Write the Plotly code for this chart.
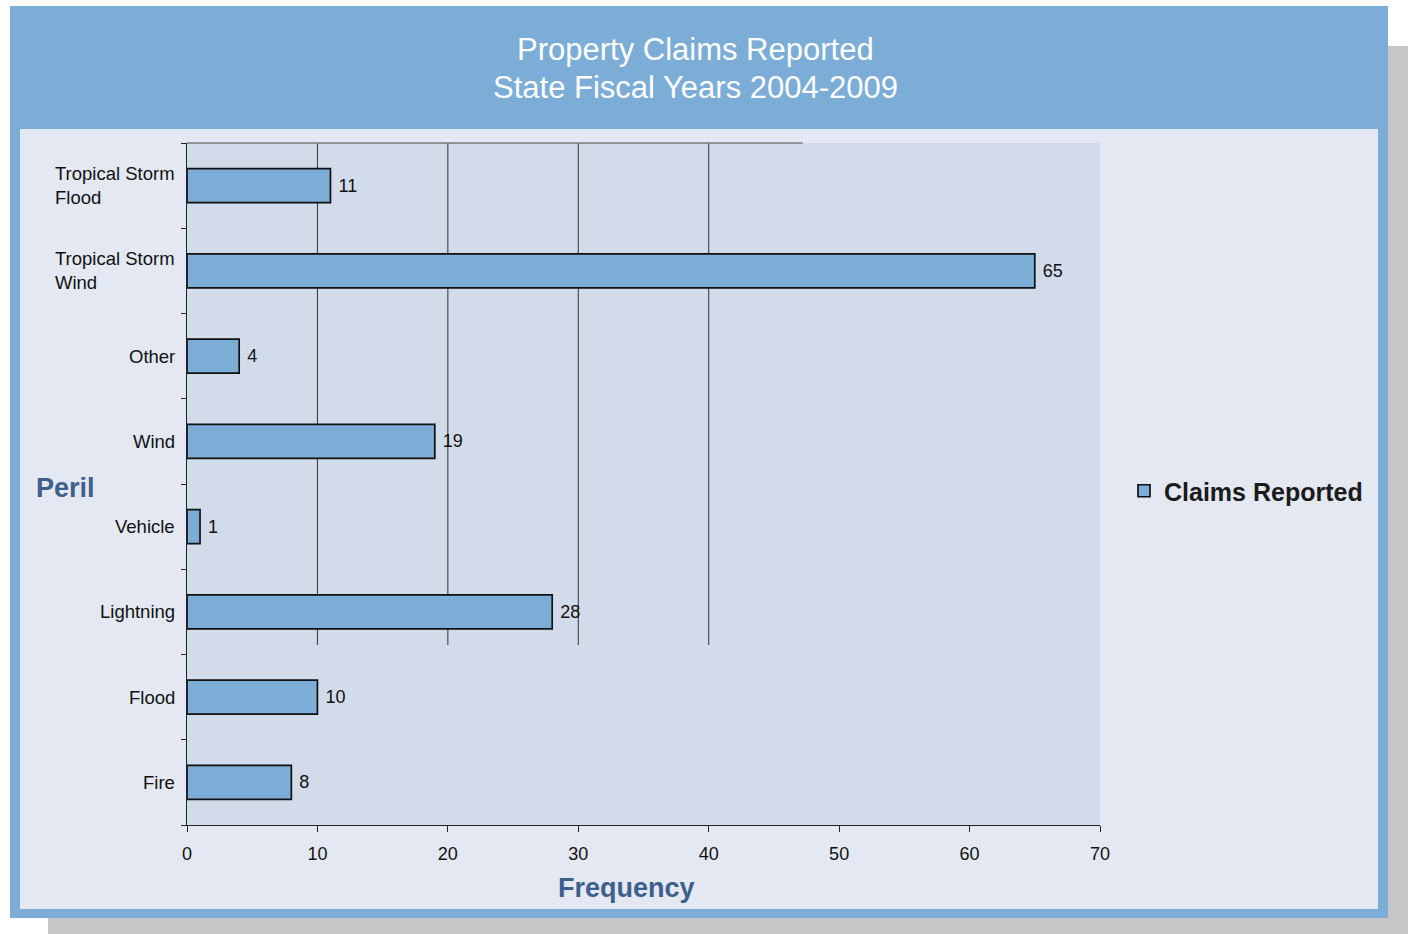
import plotly.graph_objects as go

# Claim counts by peril, listed bottom-to-top as they appear on the axis
perils = ["Fire", "Flood", "Lightning", "Vehicle", "Wind", "Other",
          "Tropical Storm<br>Wind", "Tropical Storm<br>Flood"]
claims = [8, 10, 28, 1, 19, 4, 65, 11]
x_ticks = [0, 10, 20, 30, 40, 50, 60, 70]
grid_at = [10, 20, 30, 40]
title_lines = ["Property Claims Reported", "State Fiscal Years 2004-2009"]

W, H = 1408, 934
L, R, T, B = 187, 308, 143, 109
PW, PH = W - L - R, H - T - B

FONT = "Liberation Sans, Arial, sans-serif"
BLUE = "#7badd6"
PANEL = "#e3e8f2"
PLOT_BG = "#d1dbe9"
SHADOW = "#c6c6c6"
TITLE_BLUE = "#3d5f8b"


def px(x):
    return (x - L) / PW


def py(y):
    return (T + PH - y) / PH


def rect(x0, y0, x1, y1, color):
    return dict(type="rect", xref="paper", yref="paper", layer="below",
                x0=px(x0), x1=px(x1), y0=py(y1), y1=py(y0),
                fillcolor=color, line=dict(width=0))


fig = go.Figure()
fig.add_trace(go.Bar(
    x=claims, y=perils, orientation="h", name="Claims Reported",
    marker=dict(color=BLUE, line=dict(color="#111111", width=1.7)),
    text=["\u00a0" + str(v) for v in claims], textposition="outside",
    textfont=dict(family=FONT, size=18, color="#111111"),
    cliponaxis=False, hoverinfo="x+y",
))

shapes = [
    rect(48, 46, 1408, 934, SHADOW),
    rect(10, 6, 1388, 918, BLUE),
    rect(20, 129, 1378, 909, PANEL),
    rect(L, T, L + PW, T + PH, PLOT_BG),
]
# partial vertical gridlines and top rule
for g in grid_at:
    shapes.append(dict(type="line", xref="x", yref="paper", layer="below",
                       x0=g, x1=g, y0=py(645), y1=1,
                       line=dict(color="#333333", width=1)))
shapes.append(dict(type="line", xref="x", yref="paper", layer="below",
                   x0=0, x1=47.2, y0=1, y1=1,
                   line=dict(color="#7a7a7a", width=1.5)))

annotations = []
for line, yc in zip(title_lines, [50, 87]):
    annotations.append(dict(text=line, xref="paper", yref="paper",
                            x=px(695), y=py(yc), xanchor="center",
                            yanchor="middle", showarrow=False,
                            font=dict(family=FONT, size=31, color="white")))
annotations += [
    dict(text="<b>Peril</b>", xref="paper", yref="paper", x=px(65), y=py(488),
         xanchor="center", yanchor="middle", showarrow=False,
         font=dict(family=FONT, size=27, color=TITLE_BLUE)),
    dict(text="<b>Frequency</b>", xref="paper", yref="paper", x=px(626),
         y=py(888), xanchor="center", yanchor="middle", showarrow=False,
         font=dict(family=FONT, size=27, color=TITLE_BLUE)),
]
# category labels, left-aligned lines anchored at the axis
for p in perils:
    annotations.append(dict(text=p, xref="x", yref="y", x=0, y=p,
                            xanchor="right", yanchor="middle", xshift=-10,
                            align="left", showarrow=False,
                            font=dict(family=FONT, size=18.5, color="#111111")))

fig.update_layout(
    width=W, height=H,
    margin=dict(l=L, r=R, t=T, b=B, autoexpand=False),
    paper_bgcolor="white", plot_bgcolor="rgba(0,0,0,0)",
    bargap=0.6,
    shapes=shapes, annotations=annotations,
    showlegend=True,
    legend=dict(x=px(1124), y=py(491), xanchor="left", yanchor="middle",
                bgcolor="rgba(0,0,0,0)",
                font=dict(family=FONT, size=25, color="#1a1a1a",
                          weight="bold"),
                itemclick=False, itemdoubleclick=False),
    xaxis=dict(range=[0, 70], tickvals=x_ticks, showgrid=False,
               zeroline=False, showline=True, linecolor="#222222",
               linewidth=1, ticks="outside", ticklen=6, tickcolor="#222222",
               ticklabelstandoff=6,
               tickfont=dict(family=FONT, size=18, color="#111111")),
    yaxis=dict(type="category", categoryorder="array", categoryarray=perils,
               range=[-0.5, len(perils) - 0.5], showgrid=False,
               zeroline=False, showline=True, linecolor="#222222",
               linewidth=1, ticks="outside", ticklen=5, tickcolor="#222222",
               tickson="boundaries", showticklabels=False),
)

fig.write_html("out.html")
